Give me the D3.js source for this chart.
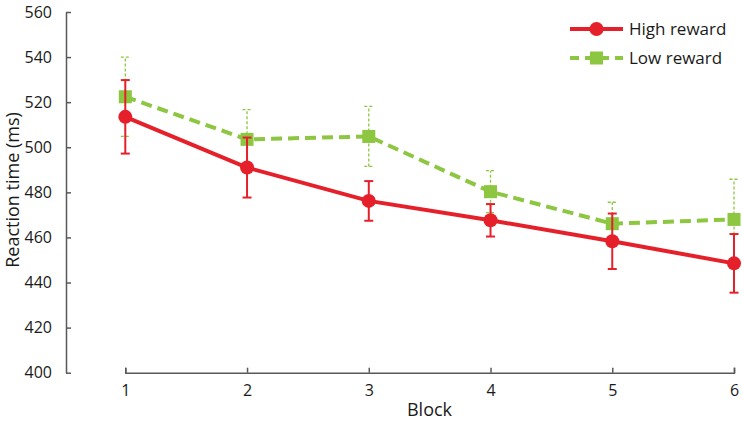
<!DOCTYPE html>
<html>
<head>
<meta charset="utf-8">
<script src="https://cdn.jsdelivr.net/npm/d3@7"></script>
<style>
  body { margin: 0; background: #fff; }
  svg text { font-family: "Open Sans", "Noto Sans", sans-serif; fill: #1a1a1a; }
</style>
</head>
<body>
<div id="chart"></div>
<script>
// data
var blocks = [1, 2, 3, 4, 5, 6];
var highMean = [513.5, 491, 476.2, 467.6, 458.3, 448.5];
var highErr = [16.3, 13.3, 8.8, 7.2, 12.3, 13];
var lowMean = [522.4, 503.5, 504.8, 480.3, 466.1, 468];
var lowErr = [17.6, 13.2, 13.3, 9.3, 9.5, 17.8];
var yTicks = [400, 420, 440, 460, 480, 500, 520, 540, 560];
var seriesNames = ["High reward", "Low reward"];

var width = 742, height = 423;
var red = "#e5202a", green = "#8dc641";

var svg = d3.select("#chart").append("svg")
  .attr("width", width)
  .attr("height", height);

var x = d3.scaleLinear().domain([1, 6]).range([125.3, 734]);
var y = d3.scaleLinear().domain([400, 560]).range([372.7, 12]);

/* axes */
var yAxis = svg.append("g")
  .attr("transform", "translate(66,0)")
  .call(d3.axisLeft(y).tickValues(yTicks).tickSizeInner(-5).tickSizeOuter(0).tickPadding(14));
yAxis.selectAll("path, line").attr("stroke", "#595959").attr("stroke-width", 1.5);
yAxis.selectAll("text").style("font-size", "16px").attr("fill", "#1a1a1a");

var xAxis = svg.append("g")
  .attr("transform", "translate(0,372.7)")
  .call(d3.axisBottom(x).tickValues(blocks).tickFormat(d3.format("d")).tickSize(-5).tickPadding(12));
xAxis.selectAll("path, line").attr("stroke", "#595959").attr("stroke-width", 1.5);
xAxis.selectAll("text").style("font-size", "16px").attr("fill", "#1a1a1a");

svg.append("text")
  .attr("text-anchor", "middle")
  .attr("transform", "translate(19,190) rotate(-90)")
  .style("font-size", "18px")
  .text("Reaction time (ms)");

svg.append("text")
  .attr("text-anchor", "middle")
  .attr("x", 429.5)
  .attr("y", 416)
  .style("font-size", "18px")
  .text("Block");

/* build series rows */
function rows(means, errs) {
  return blocks.map(function (b, i) { return {b: b, m: means[i], e: errs[i]}; });
}
var high = rows(highMean, highErr);
var low = rows(lowMean, lowErr);

var line = d3.line().x(function (d) { return x(d.b); }).y(function (d) { return y(d.m); });

function errorBars(data, color, w, dash) {
  var g = svg.append("g").attr("stroke", color).attr("stroke-width", w).attr("fill", "none");
  g.selectAll(".v").data(data).enter().append("line")
    .attr("x1", function (d) { return x(d.b); })
    .attr("x2", function (d) { return x(d.b); })
    .attr("y1", function (d) { return y(d.m - d.e); })
    .attr("y2", function (d) { return y(d.m + d.e); })
    .attr("stroke-dasharray", dash);
  [-1, 1].forEach(function (s) {
    g.selectAll(".c" + s).data(data).enter().append("line")
      .attr("x1", function (d) { return x(d.b) - 4.5; })
      .attr("x2", function (d) { return x(d.b) + 4.5; })
      .attr("y1", function (d) { return y(d.m + s * d.e); })
      .attr("y2", function (d) { return y(d.m + s * d.e); })
      .attr("stroke-dasharray", dash);
  });
}

// low reward (green, dashed)
errorBars(low, green, 1.3, "3,2");
svg.append("path").datum(low)
  .attr("d", line)
  .attr("fill", "none")
  .attr("stroke", green)
  .attr("stroke-width", 4)
  .attr("stroke-dasharray", "11,6");
svg.selectAll(".sq").data(low).enter().append("rect")
  .attr("x", function (d) { return x(d.b) - 6.5; })
  .attr("y", function (d) { return y(d.m) - 6.5; })
  .attr("width", 13).attr("height", 13)
  .attr("fill", green);

// high reward (red, solid)
errorBars(high, red, 2, null);
svg.append("path").datum(high)
  .attr("d", line)
  .attr("fill", "none")
  .attr("stroke", red)
  .attr("stroke-width", 4);
svg.selectAll(".dot").data(high).enter().append("circle")
  .attr("cx", function (d) { return x(d.b); })
  .attr("cy", function (d) { return y(d.m); })
  .attr("r", 7)
  .attr("fill", red);

/* legend */
var legend = svg.append("g").attr("transform", "translate(570,0)");
var lg = legend.selectAll("g").data(seriesNames).enter().append("g")
  .attr("transform", function (d, i) { return "translate(0," + (29 + i * 29) + ")"; });
lg.append("line")
  .attr("x1", 0).attr("x2", 53)
  .attr("stroke", function (d, i) { return i === 0 ? red : green; })
  .attr("stroke-width", 4)
  .attr("stroke-dasharray", function (d, i) { return i === 0 ? null : "9,6"; });
lg.filter(function (d, i) { return i === 0; }).append("circle")
  .attr("cx", 26.5).attr("r", 7).attr("fill", red);
lg.filter(function (d, i) { return i === 1; }).append("rect")
  .attr("x", 20).attr("y", -6.5).attr("width", 13).attr("height", 13).attr("fill", green);
lg.append("text")
  .attr("x", 59)
  .attr("dy", "0.35em")
  .style("font-size", "17px")
  .text(function (d) { return d; });
</script>
</body>
</html>
